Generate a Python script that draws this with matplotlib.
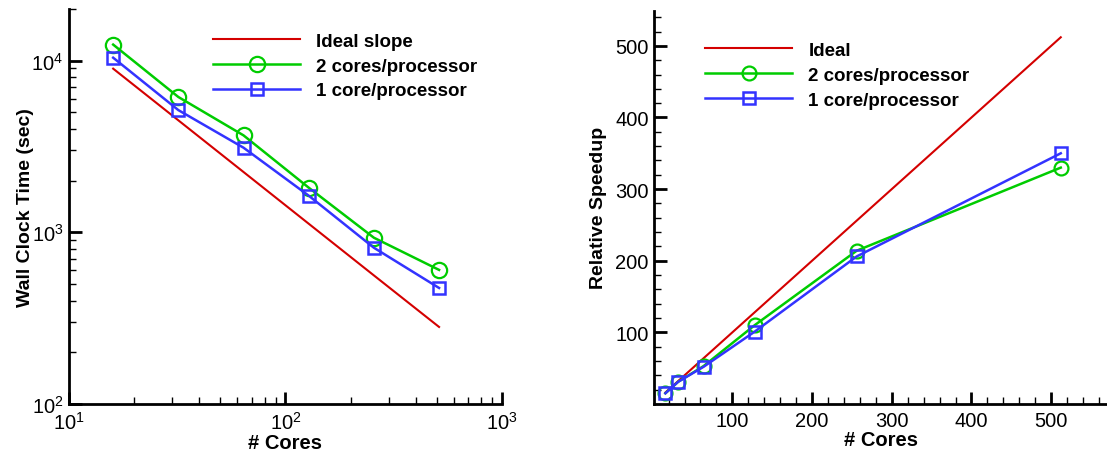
import matplotlib
matplotlib.use("Agg")
import matplotlib.pyplot as plt
from matplotlib.ticker import MultipleLocator, LogLocator, NullFormatter

plt.rcParams['font.family'] = ['Liberation Sans', 'DejaVu Sans']
plt.rcParams['mathtext.fontset'] = 'custom'
plt.rcParams['mathtext.rm'] = 'Liberation Sans'
plt.rcParams['mathtext.it'] = 'Liberation Sans:italic'
plt.rcParams['mathtext.bf'] = 'Liberation Sans:bold'

cores = [16, 32, 64, 128, 256, 512]
time_ideal = [8980, 4490, 2245, 1122, 561, 281]
time_2cores = [12400, 6140, 3670, 1820, 930, 604]
time_1core = [10400, 5150, 3110, 1635, 813, 474]

speed_ideal = [16, 32, 64, 128, 256, 512]
speed_2cores = [15, 31, 53, 110, 214, 330]
speed_1core = [15, 31, 52, 101, 206, 350]

RED = '#d40000'
GREEN = '#00cc00'
BLUE = '#3333ff'

fig = plt.figure(figsize=(11.07, 4.52), dpi=100)
ax1 = fig.add_axes([0.0623, 0.104, 0.3912, 0.874])
ax2 = fig.add_axes([0.591, 0.104, 0.409, 0.870])

def style(ax):
    for s in ['top', 'right']:
        ax.spines[s].set_visible(False)
    for s in ['left', 'bottom']:
        ax.spines[s].set_linewidth(2)
    ax.tick_params(which='major', direction='in', length=9, width=2, labelsize=14.5)
    ax.tick_params(axis='y', which='major', pad=4)
    ax.tick_params(axis='x', which='major', pad=5)
    ax.tick_params(which='minor', direction='in', length=5, width=1)

leg_kw = dict(loc='upper left', frameon=False, handlelength=4.64, handletextpad=0.85,
              labelspacing=0.41, borderaxespad=0, borderpad=0,
              prop={'weight': 'bold', 'size': 13.5})

# Left plot
ax1.plot(cores, time_ideal, color=RED, lw=1.5, label='Ideal slope')
ax1.plot(cores, time_2cores, color=GREEN, lw=1.8, marker='o', ms=11, mfc='none', mec=GREEN, mew=1.6, label='2 cores/processor')
ax1.plot(cores, time_1core, color=BLUE, lw=1.8, marker='s', ms=8, mfc='none', mec=BLUE, mew=1.8, label='1 core/processor')
ax1.set_xscale('log')
ax1.set_yscale('log')
ax1.set_xlim(10, 1000)
ax1.set_ylim(100, 20000)
ax1.xaxis.set_minor_locator(LogLocator(base=10, subs=range(2, 10)))
ax1.yaxis.set_minor_locator(LogLocator(base=10, subs=range(2, 10)))
ax1.xaxis.set_minor_formatter(NullFormatter())
ax1.yaxis.set_minor_formatter(NullFormatter())
style(ax1)
ax1.set_xlabel('# Cores', fontsize=14.5, fontweight='bold', labelpad=0)
ax1.set_ylabel('Wall Clock Time (sec)', fontsize=14, fontweight='bold', labelpad=-2)
ax1.legend(bbox_to_anchor=(0.333, 0.94), **leg_kw)

# Right plot
ax2.plot(speed_ideal, speed_ideal, color=RED, lw=1.5, label='Ideal')
ax2.plot(speed_ideal, speed_2cores, color=GREEN, lw=1.8, marker='o', ms=10, mfc='none', mec=GREEN, mew=1.6, label='2 cores/processor')
ax2.plot(speed_ideal, speed_1core, color=BLUE, lw=1.8, marker='s', ms=8, mfc='none', mec=BLUE, mew=1.8, label='1 core/processor')
ax2.set_xlim(2, 570)
ax2.set_ylim(0, 549)
ax2.set_xticks([100, 200, 300, 400, 500])
ax2.set_yticks([100, 200, 300, 400, 500])
ax2.xaxis.set_minor_locator(MultipleLocator(20))
ax2.yaxis.set_minor_locator(MultipleLocator(20))
style(ax2)
ax2.set_xlabel('# Cores', fontsize=14.5, fontweight='bold', labelpad=0)
ax2.set_ylabel('Relative Speedup', fontsize=14, fontweight='bold', labelpad=6)
ax2.legend(bbox_to_anchor=(0.113, 0.921), **leg_kw)

fig.savefig('out.png', dpi=100)
